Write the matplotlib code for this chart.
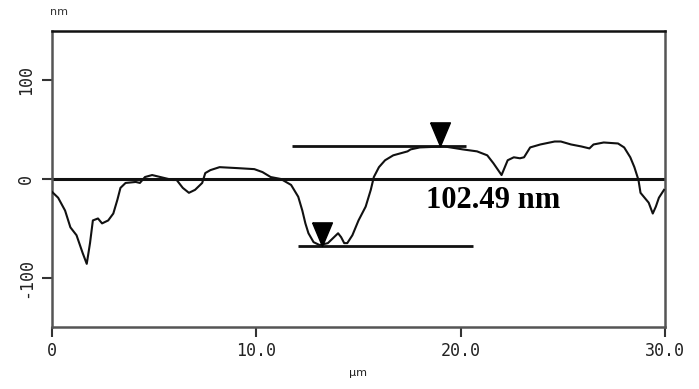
import numpy as np
import matplotlib
matplotlib.use('Agg')
import matplotlib.pyplot as plt

# profile
x_um = [0.0, 0.3, 0.64, 0.9, 1.2, 1.5, 1.7, 1.86, 2.0, 2.25, 2.45, 2.75, 3.0, 3.2, 3.35,
        3.6, 4.1, 4.3, 4.55, 4.9, 5.3, 5.9, 6.1, 6.4, 6.7, 7.0, 7.35, 7.5, 7.75, 8.2,
        9.1, 9.9, 10.3, 10.7, 11.2, 11.7, 12.05, 12.25, 12.4, 12.55, 12.8, 13.1, 13.5,
        13.8, 14.0, 14.15, 14.3, 14.45, 14.7, 15.0, 15.35, 15.6, 15.75, 16.0, 16.3, 16.7,
        17.4, 17.55, 18.0, 19.2, 20.1, 20.8, 21.3, 21.6, 22.0, 22.1, 22.3, 22.6, 22.9,
        23.1, 23.4, 23.9, 24.6, 24.9, 25.4, 25.9, 26.3, 26.5, 27.0, 27.7, 28.0, 28.3,
        28.5, 28.7, 28.8, 29.0, 29.2, 29.4, 29.55, 29.7, 29.95]
h_nm = [-13, -19, -32, -49, -57, -75, -86, -65, -42, -40, -45, -42, -35, -21, -9,
        -4, -3, -4, 2, 4, 2, -1, -1, -9, -14, -11, -4, 6, 9, 12,
        11, 10, 7, 2, 0, -6, -18, -32, -45, -55, -64, -67, -65,
        -59, -55, -59, -65, -65, -57, -42, -28, -11, 2, 12, 19, 24,
        28, 30, 32, 33, 30, 28, 24, 16, 4, 9, 19, 22, 21,
        22, 32, 35, 38, 38, 35, 33, 31, 35, 37, 36, 32, 22,
        12, -1, -14, -19, -24, -35, -28, -19, -11]

# cursor lines and markers
cursor_y = [33, -68]
cursor_x0 = [11.75, 12.05]
cursor_x1 = [20.25, 20.6]
marker_x = [19.0, 13.2]
label_text = '102.49 nm'

fig = plt.figure(figsize=(6.99, 3.89), dpi=100)
ax = fig.add_axes([0.0744, 0.1594, 0.877, 0.7609])

ax.axhline(0, color='#111111', lw=2.2, zorder=2)
ax.plot(x_um, h_nm, color='#111111', lw=1.5, zorder=3)
ax.hlines(cursor_y, cursor_x0, cursor_x1, color='#111111', lw=2.0, zorder=3)

tri = [(-0.42, 1.0), (0.42, 1.0), (0.0, 0.0), (-0.42, 1.0)]
ax.plot(marker_x, cursor_y, ls='none', marker=tri, markersize=34,
        color='black', zorder=4)

ax.text(21.6, -22, label_text, ha='center', va='center',
        family='Liberation Serif', fontweight='bold', fontsize=22)

ax.set_xlim(0, 30)
ax.set_ylim(-150, 150)
ax.set_xticks([0, 10, 20, 30])
ax.set_xticklabels(['0', '10.0', '20.0', '30.0'], family='DejaVu Sans Mono', fontsize=12)
ax.set_yticks([-100, 0, 100])
ax.set_yticklabels(['-100', '0', '100'], family='DejaVu Sans Mono', fontsize=12,
                   rotation=90, va='center')
ax.tick_params(axis='both', direction='out', length=7, width=1.5, color='#333333',
               labelcolor='#222222')
ax.tick_params(axis='y', pad=5)

for side in ['left', 'bottom', 'right']:
    ax.spines[side].set_color('#555555')
    ax.spines[side].set_linewidth(1.8)
ax.spines['top'].set_color('#111111')
ax.spines['top'].set_linewidth(1.8)

fig.text(0.072, 0.968, 'nm', fontsize=8, color='#333333', ha='left', va='center')
fig.text(0.512, 0.04, 'µm', fontsize=8, color='#222222', ha='center', va='center')

plt.savefig('out.png', dpi=100)
